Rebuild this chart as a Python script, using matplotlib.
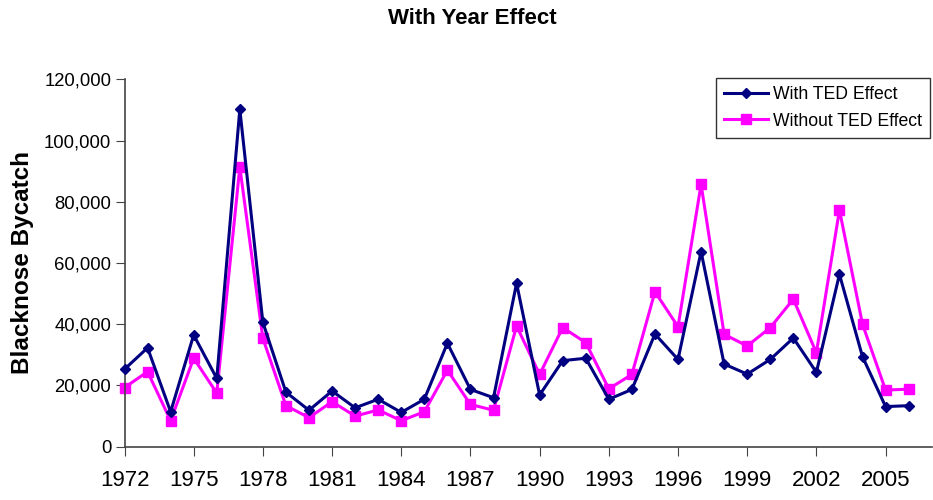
import matplotlib
matplotlib.use("Agg")
import matplotlib.pyplot as plt
from matplotlib.ticker import FuncFormatter, MultipleLocator

plt.rcParams['font.family'] = ['Liberation Sans', 'DejaVu Sans']

years = list(range(1972, 2007))
with_ted = [25300, 32300, 11400, 36500, 22300, 110200, 40600, 17800, 11900, 18200,
            12700, 15500, 11200, 15500, 33800, 18700, 16000, 53400, 16900, 28100,
            28900, 15500, 18700, 36800, 28500, 63700, 27000, 23700, 28500, 35500,
            24300, 56300, 29400, 13100, 13400]
without_ted = [19300, 24500, 8500, 28900, 17500, 91300, 35400, 13400, 9500, 14700,
               10000, 12000, 8500, 11400, 25000, 13800, 11900, 39400, 23600, 38900,
               34000, 18900, 23600, 50600, 39200, 85700, 36700, 32900, 38900, 48200,
               30700, 77300, 40000, 18500, 18800]
xtick_years = list(range(1972, 2006, 3))

fig = plt.figure(figsize=(9.33, 5.0), dpi=100)
ax = fig.add_axes([124.5/933, 1-446.7/500, (931.7-124.5)/933, (446.7-79.3)/500])

ax.plot(years, with_ted, color='#000080', lw=2.2, marker='D', markersize=5.5,
        label='With TED Effect', clip_on=False, zorder=3)
ax.plot(years, without_ted, color='#FF00FF', lw=2.2, marker='s', markersize=6.5,
        label='Without TED Effect', clip_on=False, zorder=2)

ax.set_xlim(1972, 2007)
ax.set_ylim(0, 120000)
ax.set_xticks(xtick_years)
ax.yaxis.set_major_locator(MultipleLocator(20000))
ax.yaxis.set_major_formatter(FuncFormatter(lambda v, p: f"{int(v):,}"))

for s in ['top', 'right']:
    ax.spines[s].set_visible(False)
for s in ['left', 'bottom']:
    ax.spines[s].set_color('#444444')
    ax.spines[s].set_linewidth(1.2)
ax.tick_params(axis='x', direction='out', length=6.5, color='#444444', labelsize=16, pad=10)
ax.tick_params(axis='y', direction='out', length=6.5, color='#444444', labelsize=13.3, pad=3)

ax.set_ylabel('Blacknose Bycatch', fontsize=17.5, fontweight='bold', labelpad=7)
fig.text(472/933, 1-18/500, 'With Year Effect', ha='center', va='center',
         fontsize=16, fontweight='bold')

leg = ax.legend(loc='upper right', bbox_to_anchor=(930/933, 1-78/500),
                bbox_transform=fig.transFigure, borderaxespad=0, frameon=True,
                fancybox=False, edgecolor='black', fontsize=12.7, handlelength=2.5,
                borderpad=0.45, labelspacing=0.55, handletextpad=0.3)
leg.get_frame().set_linewidth(1.0)

fig.savefig('out.png', dpi=100)
